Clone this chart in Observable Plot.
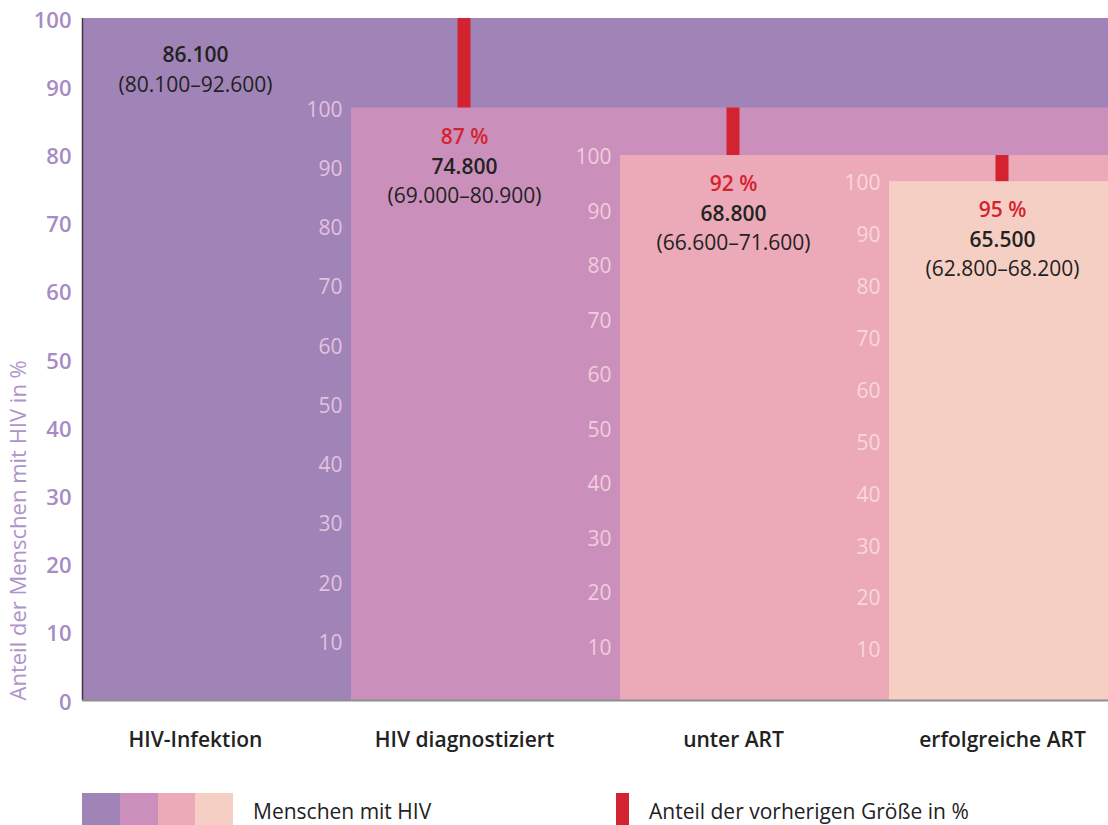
<!DOCTYPE html>
<html><head><meta charset="utf-8">
<script src="https://cdn.jsdelivr.net/npm/d3@7"></script>
<script src="https://cdn.jsdelivr.net/npm/@observablehq/plot@0.6"></script>
<style>
body{margin:0;background:#fff;font-family:"Open Sans",sans-serif;}
#chart{width:1108px;height:770px;}
.legend{position:relative;width:1108px;height:55px;}
.sw{position:absolute;top:23px;height:34px;}
.lt{position:absolute;top:27px;font-size:21px;color:#222;line-height:28px;font-family:"Open Sans",sans-serif;}
</style></head><body>
<div id="chart"></div>
<div class="legend" id="legend"></div>
<script>
// ---- data ----
const categories = ["HIV-Infektion", "HIV diagnostiziert", "unter ART", "erfolgreiche ART"];
const counts = [86100, 74800, 68800, 65500];
const lower = [80100, 69000, 66600, 62800];
const upper = [92600, 80900, 71600, 68200];
const shareOfPrevious = [null, 87, 92, 95];
const yTicks = [0, 10, 20, 30, 40, 50, 60, 70, 80, 90, 100];
const innerTicks = [10, 20, 30, 40, 50, 60, 70, 80, 90, 100];
const yLabel = "Anteil der Menschen mit HIV in %";
const legendPeople = "Menschen mit HIV";
const legendShare = "Anteil der vorherigen Größe in %";

// ---- styles ----
const barColors = ["#a084b7", "#ca90bb", "#eca9b7", "#f6cfc4"];
const innerLabelColors = [null, "#e2c2df", "#f0cddb", "#f8d9d5"];
const red = "#d42330";
const dark = "#222222";
const axisColor = "#a68bc4";

const fmt = d3.formatLocale({decimal: ",", thousands: ".", grouping: [3], currency: ["", "€"]}).format(",");

const rows = categories.map((c, i) => ({
  i, c,
  top: counts[i] / counts[0] * 100,
  prevTop: i ? counts[i - 1] / counts[0] * 100 : null,
  count: counts[i], lo: lower[i], hi: upper[i], pct: shareOfPrevious[i]
}));
const innerRows = rows.filter(d => d.i > 0).flatMap(d => innerTicks.map(k => ({i: d.i, k, v: k * d.top / 100})));

// geometry: each step is 269px, label centre 113px from step start
const step = 269;
const xMax = (1108 - 82) / step;
const cOff = 113 / step;
const hw = 6.5 / step;

const chart = Plot.plot({
  width: 1108, height: 770,
  marginTop: 18, marginBottom: 70, marginLeft: 82, marginRight: 0,
  style: {fontFamily: "'Open Sans', sans-serif", fontSize: "20px", background: "#fff"},
  x: {type: "linear", domain: [0, xMax], axis: null},
  y: {domain: [0, 100], axis: null},
  color: {type: "identity"},
  marks: [
    Plot.rect(rows, {x1: "i", x2: () => xMax, y1: () => 0, y2: "top", fill: d => barColors[d.i]}),
    Plot.rect(rows.filter(d => d.i > 0), {x1: d => d.i + cOff - hw, x2: d => d.i + cOff + hw, y1: "top", y2: "prevTop", fill: red}),
    Plot.text(innerRows, {x: "i", y: "v", text: d => String(d.k), textAnchor: "end", dx: -9, dy: 2, fill: d => innerLabelColors[d.i], fontSize: 21, fontWeight: 500}),
    Plot.text(yTicks, {x: () => 0, y: d => d, text: d => String(d), textAnchor: "end", dx: -11, dy: 2, fill: axisColor, fontSize: 22, fontWeight: 600}),
    Plot.text([yLabel], {x: () => -64 / step, y: () => 0, text: d => d, rotate: -90, textAnchor: "start", fill: "#ad94ca", fontSize: 22}),
    Plot.ruleX([0], {y1: () => 0, y2: () => 100, stroke: "#3d3540", strokeWidth: 1.5}),
    Plot.ruleY([0], {stroke: "#8e8e8e", strokeWidth: 2}),
    Plot.text(rows.filter(d => d.i > 0), {x: d => d.i + cOff, y: "top", dy: 29, text: d => d.pct + " %", fill: red, fontSize: 21, fontWeight: 600}),
    Plot.text(rows.filter(d => d.i > 0), {x: d => d.i + cOff, y: "top", dy: 59, text: d => fmt(d.count), fill: dark, fontSize: 21, fontWeight: 600}),
    Plot.text(rows.filter(d => d.i > 0), {x: d => d.i + cOff, y: "top", dy: 88, text: d => "(" + fmt(d.lo) + "–" + fmt(d.hi) + ")", fill: dark, fontSize: 21}),
    Plot.text(rows.filter(d => d.i === 0), {x: d => d.i + cOff, y: "top", dy: 37, text: d => fmt(d.count), fill: dark, fontSize: 21, fontWeight: 600}),
    Plot.text(rows.filter(d => d.i === 0), {x: d => d.i + cOff, y: "top", dy: 67, text: d => "(" + fmt(d.lo) + "–" + fmt(d.hi) + ")", fill: dark, fontSize: 21}),
    Plot.text(rows, {x: d => d.i + cOff, y: () => 0, dy: 40, text: "c", fill: dark, fontSize: 21, fontWeight: 600})
  ]
});
document.getElementById("chart").appendChild(chart);

// legend
const lg = document.getElementById("legend");
barColors.forEach((c, i) => {
  const s = document.createElement("div");
  s.className = "sw"; s.style.left = (82 + i * 37.75) + "px"; s.style.width = "37.75px"; s.style.background = c;
  lg.appendChild(s);
});
const t1 = document.createElement("div"); t1.className = "lt"; t1.style.left = "253px"; t1.textContent = legendPeople; lg.appendChild(t1);
const r = document.createElement("div"); r.className = "sw"; r.style.left = "616px"; r.style.width = "13px"; r.style.background = red; lg.appendChild(r);
const t2 = document.createElement("div"); t2.className = "lt"; t2.style.left = "649px"; t2.textContent = legendShare; lg.appendChild(t2);
</script>
</body></html>
